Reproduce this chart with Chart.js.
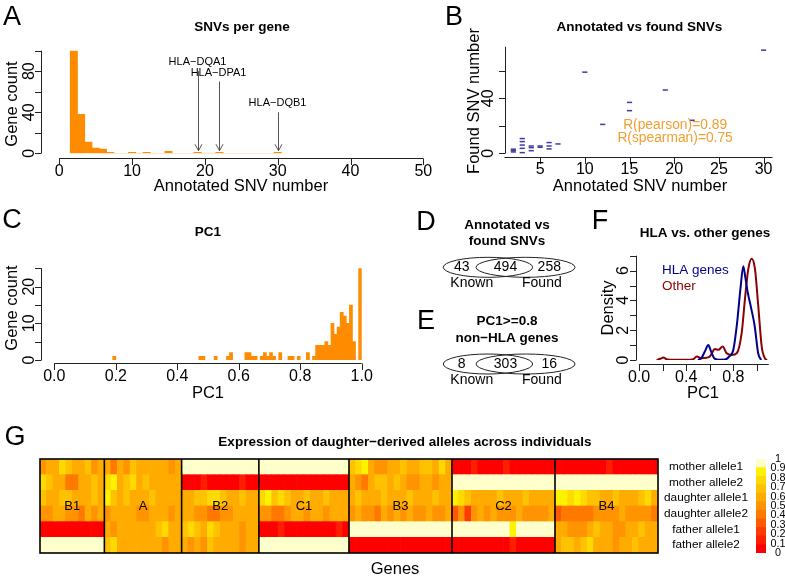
<!DOCTYPE html>
<html>
<head>
<meta charset="utf-8">
<script src="https://cdn.jsdelivr.net/npm/chart.js@4.4.1/dist/chart.umd.min.js"></script>
<style>
  html, body { margin: 0; padding: 0; background: #fff; }
  #fig { position: relative; width: 785px; height: 585px; overflow: hidden; }
  #fig canvas { position: absolute; left: 0; top: 0; }
</style>
</head>
<body>
<div id="fig">
  <canvas id="cA" width="785" height="585"></canvas>
  <canvas id="cB" width="785" height="585"></canvas>
  <canvas id="cC" width="785" height="585"></canvas>
  <canvas id="cDE" width="785" height="585"></canvas>
  <canvas id="cF" width="785" height="585"></canvas>
  <canvas id="cG" width="785" height="585"></canvas>
  <canvas id="cKey" width="785" height="585"></canvas>
</div>
<script>
// ---- A: SNVs per gene
const snvBins = [2,3,4,5,6,7,8,9,10,11,12,13,14,15,16,17,18,19,20,21,22,23,24,25,26,27,28,29,30]
const snvCounts = [100,38,11,5,4,1,0,0,1,0,1,0,0,2,0,0,0,1,0,0,1,0,0,0,0,0,0,0,1]
const snvTicks = [0,10,20,30,40,50]
const countTicksA = [0,20,40,60,80,100]
const countLabelsA = ['0','','40','','80','']
const hlaGenes = ['HLA\u2212DQA1','HLA\u2212DPA1','HLA\u2212DQB1']
const hlaSnv = [19,22,30]
const hlaArrowFrom = [80,70,40]

// ---- B: annotated vs found
const annotX = [2,2,2,3,3,3,3,3,4,4,4,5,5,6,6,6,7,10,12,15,15,19,22,30]
const foundY = [1,2,3,0.5,3.6,6,8.5,10.7,1.9,4.1,5.3,4.4,5.3,3.2,5.3,7.8,6.8,59,21,31,37,46,24,75]
const annotTicks = [5,10,15,20,25,30]
const foundTicks = [0,20,40,60]
const foundLabels = ['0','','40','']
const corrLabels = ['R(pearson)=0.89','R(spearman)=0.75']

// ---- C: PC1 histogram (bin centres, width 0.01)
const pc1Mid = [0.195,0.475,0.485,0.525,0.565,0.575,0.625,0.635,0.645,0.655,0.675,0.685,0.695,0.705,0.715,0.735,
  0.765,0.775,0.795,0.825,0.845,0.855,0.865,0.875,0.885,0.895,0.905,0.915,0.925,0.935,0.945,0.955,0.965,0.975,0.995]
const pc1Count = [1,1,1,1,1,2,2,2,1,1,1,2,1,2,1,2,
  1,1,1,2,1,4,4,4,5,4,10,7,9,13,12,10,15,5,28]
const pc1Ticks = [0,0.2,0.4,0.6,0.8,1.0]
const pc1Labels = ['0.0','0.2','0.4','0.6','0.8','1.0']
const countTicksC = [0,5,10,15,20,25]
const countLabelsC = ['0','','10','','20','']

// ---- D / E: overlaps (known only, both, found only)
const vennSets = ['Known','Found']
const overlapAll = [43,494,258]
const overlapPc1 = [8,303,16]

// ---- F: density of PC1
const hlaDensX = [0.50,0.53,0.56,0.587,0.61,0.64,0.68,0.73,0.76,0.80,0.83,0.86,0.884,0.90,0.92,0.95,0.98,1.01,1.035]
const hlaDensY = [0,0.15,0.6,1.0,0.6,0.1,0.02,0.03,0.2,0.7,2.4,4.8,6.3,5.6,4.6,3.5,2.3,0.45,0]
const otherDensX = [0.15,0.18,0.206,0.24,0.30,0.40,0.46,0.489,0.53,0.57,0.60,0.644,0.672,0.709,0.743,0.786,0.828,0.87,0.898,0.926,0.955,0.983,1.011,1.04,1.068,1.085]
const otherDensY = [0,0.08,0.16,0.03,0.01,0.01,0.05,0.23,0.12,0.15,0.23,0.73,0.68,0.9,0.45,0.34,0.45,1.8,4.1,6.1,6.8,6.1,3.6,0.9,0.1,0]
const densTicksX = [0,0.2,0.4,0.6,0.8,1.0]
const densLabelsX = ['0.0','','0.4','','0.8','']
const densTicksY = [0,1,2,3,4,5,6,7]
const densLabelsY = ['0','','2','','4','','6','']

// ---- G: allele expression, rows = mother1, mother2, daughter1, daughter2, father1, father2
const rowLabels = ['mother allele1','mother allele2','daughter allele1','daughter allele2','father allele1','father allele2']
const blockNames = ['B1','A','B2','C1','B3','C2','B4']
const blockB1 = [
  [0.5,0.6,0.6,0.8,0.7,0.6,0.6,0.7,0.5,0.6],
  [0.8,0.7,0.6,0.6,0.4,0.4,0.6,0.6,0.7,0.6],
  [0.7,0.6,0.6,0.7,0.7,0.6,0.6,0.6,0.7,0.6],
  [0.5,0.5,0.6,0.6,0.5,0.5,0.4,0.6,0.5,0.6],
  [0,0,0,0,0,0,0,0,0,0],
  [1,1,1,1,1,1,1,1,1,1]]
const blockA = [
  [0.6,0.4,0.6,0.5,0.7,0.6,0.6,0.6,0.6,0.6,0.5,0.6],
  [0.8,0.9,0.6,0.7,0.8,0.6,0.7,0.6,0.6,0.6,0.6,0.6],
  [0.9,0.7,0.6,0.7,0.6,0.6,0.6,0.7,0.6,0.6,0.6,0.6],
  [0.5,0.6,0.6,0.6,0.6,0.5,0.5,0.6,0.6,0.6,0.5,0.6],
  [0.6,0.5,0.6,0.6,0.6,0.6,0.6,0.6,0.7,0.8,0.6,0.6],
  [0.7,0.8,0.6,0.6,0.6,0.6,0.6,0.6,0.6,0.5,0.6,0.6]]
const blockB2 = [
  [1,1,1,1,1,1,1,1,1,1,1,1],
  [0,0,0,0.1,0,0,0,0,0,0.1,0,0],
  [0.6,0.6,0.7,0.7,0.8,0.8,0.7,0.6,0.6,0.7,0.6,0.6],
  [0.6,0.6,0.5,0.5,0.4,0.4,0.5,0.5,0.6,0.6,0.6,0.6],
  [0.7,0.8,0.7,0.6,0.8,0.7,0.6,0.6,0.6,0.5,0.6,0.6],
  [0.6,0.5,0.6,0.5,0.7,0.6,0.6,0.6,0.6,0.5,0.6,0.6]]
const blockC1 = [
  [1,1,1,1,1,1,1,1,1,1,1,1,1,1],
  [0,0,0,0,0,0,0,0,0,0,0,0,0,0],
  [0.8,0.9,0.7,0.8,0.7,0.6,0.6,0.7,0.6,0.6,0.7,0.6,0.6,0.6],
  [0.5,0.5,0.4,0.4,0.5,0.6,0.6,0.5,0.6,0.6,0.5,0.6,0.6,0.6],
  [0,0,0,0.1,0,0,0,0,0,0,0,0,0.1,0],
  [1,1,1,1,1,1,1,1,1,1,1,1,1,1]]
const blockB3 = [
  [0.7,0.8,0.9,0.6,0.5,0.5,0.6,0.6,0.7,0.6,0.6,0.7,0.7,0.6,0.8,0.6],
  [0.6,0.5,0.4,0.6,0.7,0.7,0.6,0.7,0.6,0.5,0.5,0.6,0.6,0.5,0.6,0.6],
  [0.6,0.7,0.6,0.6,0.6,0.7,0.6,0.6,0.6,0.7,0.6,0.6,0.6,0.7,0.6,0.6],
  [0.5,0.6,0.5,0.5,0.4,0.6,0.5,0.6,0.5,0.6,0.5,0.5,0.6,0.5,0.5,0.6],
  [1,1,1,1,1,1,1,1,1,1,1,1,1,1,1,1],
  [0,0,0,0,0,0,0,0,0,0,0,0,0,0,0,0]]
const blockC2 = [
  [0,0,0,0.1,0,0,0,0,0.1,0,0,0,0,0,0,0],
  [1,1,1,1,1,1,1,1,1,1,1,1,1,1,1,1],
  [0.9,0.8,0.7,0.6,0.6,0.6,0.6,0.7,0.6,0.6,0.6,0.7,0.6,0.6,0.6,0.6],
  [0.3,0.5,0.2,0.5,0.6,0.5,0.6,0.5,0.5,0.5,0.6,0.5,0.5,0.5,0.5,0.6],
  [1,1,1,1,1,1,1,1,1,0.9,1,1,1,1,1,1],
  [0,0,0,0,0,0,0,0,0,0.1,0,0,0,0,0,0]]
const blockB4 = [
  [0,0,0,0,0,0,0,0,0.1,0,0,0,0,0,0,0],
  [1,1,1,1,1,1,1,1,1,1,1,1,1,1,1,1],
  [0.9,0.9,0.8,0.9,0.8,0.7,0.7,0.6,0.6,0.7,0.6,0.6,0.6,0.7,0.8,0.6],
  [0.3,0.4,0.4,0.4,0.4,0.4,0.5,0.5,0.5,0.5,0.6,0.5,0.5,0.5,0.5,0.4],
  [0.6,0.6,0.5,0.5,0.5,0.6,0.7,0.6,0.6,0.5,0.5,0.6,0.6,0.7,0.6,0.6],
  [0.6,0.7,0.7,0.6,0.7,0.8,0.6,0.6,0.6,0.5,0.6,0.6,0.7,0.6,0.6,0.6]]
const keyTicks = [0,0.1,0.2,0.3,0.4,0.5,0.6,0.7,0.8,0.9,1]
const keyLabels = ['0','0.1','0.2','0.3','0.4','0.5','0.6','0.7','0.8','0.9','1']

// ---------------------------------------------------------------
const FONT = '"Liberation Sans", Arial, Helvetica, sans-serif'
const ORANGE = '#FF8C00'
const heatPalette = ['#FF0000','#FF1E00','#FF3C00','#FF5A00','#FF7800','#FF9300',
  '#FFAB00','#FFC200','#FFD900','#FFF200','#FFFFCC']
const heatColor = v => heatPalette[Math.round(v * 10)]

function txt(ctx, s, x, y, o = {}) {
  ctx.save()
  ctx.font = (o.bold ? 'bold ' : '') + (o.size || 16) + 'px ' + FONT
  ctx.fillStyle = o.color || '#000'
  ctx.textAlign = o.align || 'center'
  ctx.textBaseline = 'middle'
  ctx.translate(x, y)
  if (o.rot) ctx.rotate(o.rot)
  ctx.fillText(s, 0, 0)
  ctx.restore()
}

// R style axis: line between from/to, outward ticks, labels (y labels rotated)
function axis(chart, id, o) {
  const s = chart.scales[id], ctx = chart.ctx
  ctx.save()
  ctx.strokeStyle = '#222'
  ctx.lineWidth = 1
  ctx.beginPath()
  if (id === 'x') {
    ctx.moveTo(s.getPixelForValue(o.from), o.pos)
    ctx.lineTo(s.getPixelForValue(o.to), o.pos)
    o.at.forEach(v => {
      const p = Math.round(s.getPixelForValue(v)) + 0.5
      ctx.moveTo(p, o.pos); ctx.lineTo(p, o.pos + 6.5)
    })
  } else {
    ctx.moveTo(o.pos, s.getPixelForValue(o.from))
    ctx.lineTo(o.pos, s.getPixelForValue(o.to))
    o.at.forEach(v => {
      const p = Math.round(s.getPixelForValue(v)) + 0.5
      ctx.moveTo(o.pos, p); ctx.lineTo(o.pos - 6.5, p)
    })
  }
  ctx.stroke()
  ctx.restore()
  o.at.forEach((v, i) => {
    if (!o.labels[i]) return
    const p = s.getPixelForValue(v)
    if (id === 'x') txt(ctx, o.labels[i], p, o.labelPos, { size: 16 })
    else txt(ctx, o.labels[i], o.labelPos, p, { size: 16, rot: -Math.PI / 2 })
  })
}

const pad = (left, top, right, bottom) => ({ left, top, right: 785 - right, bottom: 585 - bottom })
const base = (padding, extra) => Object.assign({
  responsive: false, animation: false, events: [],
  layout: { padding },
  plugins: { legend: { display: false }, tooltip: { enabled: false }, title: { display: false } }
}, extra)

// ---- A
new Chart(document.getElementById('cA'), {
  type: 'bar',
  data: { datasets: [{
    data: snvBins.map((b, i) => ({ x: b, y: snvCounts[i] })),
    backgroundColor: ORANGE, borderWidth: 0, barPercentage: 1, categoryPercentage: 1
  }] },
  options: base(pad(59.3, 50.7, 423.3, 153.3), {
    scales: {
      x: { type: 'linear', min: 0, max: 50, display: false, offset: false },
      y: { min: 0, max: 100, display: false }
    }
  }),
  plugins: [{ id: 'panelA', afterDraw(chart) {
    const ctx = chart.ctx, xs = chart.scales.x, ys = chart.scales.y
    axis(chart, 'x', { pos: 158.5, from: 0, to: 50, at: snvTicks, labels: snvTicks.map(String), labelPos: 172 })
    axis(chart, 'y', { pos: 41.5, from: 0, to: 100, at: countTicksA, labels: countLabelsA, labelPos: 30 })
    txt(ctx, 'Annotated SNV number', 241, 186, { size: 16.5 })
    txt(ctx, 'Gene count', 12, 104, { size: 16.5, rot: -Math.PI / 2 })
    txt(ctx, 'SNVs per gene', 242, 27, { size: 13.5, bold: true })
    txt(ctx, 'A', 12, 18, { size: 27 })
    hlaGenes.forEach((g, i) => {
      const x = Math.round(xs.getPixelForValue(hlaSnv[i])) + 0.5
      const y0 = ys.getPixelForValue(hlaArrowFrom[i]), y1 = ys.getPixelForValue(2.5)
      ctx.save()
      ctx.strokeStyle = '#555'
      ctx.lineWidth = 1
      ctx.beginPath()
      ctx.moveTo(x, y0); ctx.lineTo(x, y1)
      ctx.moveTo(x - 3.5, y1 - 6.5); ctx.lineTo(x, y1); ctx.lineTo(x + 3.5, y1 - 6.5)
      ctx.stroke()
      ctx.restore()
      txt(ctx, g, x - 1, y0 - 9, { size: 11 })
    })
  } }]
})

// ---- B
new Chart(document.getElementById('cB'), {
  type: 'scatter',
  data: { datasets: [{
    data: annotX.map((x, i) => ({ x, y: foundY[i] })),
    pointStyle: 'line', pointRadius: 2.6, pointBorderWidth: 1.5,
    borderColor: '#3B3BA0', backgroundColor: '#3B3BA0', clip: false
  }] },
  options: base(pad(504.4, 46.7, 772.5, 153.3), {
    scales: {
      x: { type: 'linear', min: 1, max: 31, display: false },
      y: { min: 0, max: 77.5, display: false }
    }
  }),
  plugins: [{ id: 'panelB', afterDraw(chart) {
    const ctx = chart.ctx, xs = chart.scales.x, ys = chart.scales.y
    axis(chart, 'x', { pos: 157.5, from: 1, to: 31, at: annotTicks, labels: annotTicks.map(String), labelPos: 170 })
    axis(chart, 'y', { pos: 505.5, from: 0, to: 77.5, at: foundTicks, labels: foundLabels, labelPos: 489 })
    txt(ctx, 'Annotated SNV number', 640, 186, { size: 16.5 })
    txt(ctx, 'Found SNV number', 474, 101, { size: 16.5, rot: -Math.PI / 2 })
    txt(ctx, 'Annotated vs found SNVs', 639.5, 27, { size: 13.5, bold: true })
    txt(ctx, 'B', 454, 18, { size: 27 })
    txt(ctx, corrLabels[0], xs.getPixelForValue(20.1), ys.getPixelForValue(20.6), { size: 13.8, color: '#F0A030' })
    txt(ctx, corrLabels[1], xs.getPixelForValue(20.1), ys.getPixelForValue(10.9), { size: 13.8, color: '#F0A030' })
  } }]
})

// ---- C
new Chart(document.getElementById('cC'), {
  type: 'bar',
  data: { datasets: [{
    data: pc1Mid.map((x, i) => ({ x, y: pc1Count[i] })),
    backgroundColor: ORANGE, borderWidth: 0, barPercentage: 1, categoryPercentage: 1
  }] },
  options: base(pad(54.3, 268.3, 361.7, 360), {
    scales: {
      x: { type: 'linear', min: 0, max: 1, display: false, offset: false },
      y: { min: 0, max: 25, display: false }
    }
  }),
  plugins: [{ id: 'panelC', afterDraw(chart) {
    const ctx = chart.ctx
    axis(chart, 'x', { pos: 363.5, from: 0, to: 1, at: pc1Ticks, labels: pc1Labels, labelPos: 377 })
    axis(chart, 'y', { pos: 41.5, from: 0, to: 25, at: countTicksC, labels: countLabelsC, labelPos: 30 })
    txt(ctx, 'PC1', 208, 393, { size: 16.5 })
    txt(ctx, 'Gene count', 12, 308, { size: 16.5, rot: -Math.PI / 2 })
    txt(ctx, 'PC1', 208, 232.5, { size: 13.5, bold: true })
    txt(ctx, 'C', 12, 221, { size: 27 })
  } }]
})

// ---- D / E : two-set overlaps, x = -1 (known only), 0 (both), 1 (found only)
new Chart(document.getElementById('cDE'), {
  type: 'scatter',
  data: { datasets: [
    { data: overlapAll.map((n, i) => ({ x: i - 1, y: 1 })), pointRadius: 0 },
    { data: overlapPc1.map((n, i) => ({ x: i - 1, y: 0 })), pointRadius: 0 }
  ] },
  options: base(pad(461.7, 267.3, 549.3, 364), {
    scales: {
      x: { type: 'linear', min: -1, max: 1, display: false },
      y: { min: 0, max: 1, display: false }
    }
  }),
  plugins: [{ id: 'venn', afterDraw(chart) {
    const ctx = chart.ctx, xs = chart.scales.x
    const counts = [overlapAll, overlapPc1]
    counts.forEach((arr, d) => {
      const pts = chart.getDatasetMeta(d).data
      const y = pts[0].y
      ctx.save()
      ctx.strokeStyle = '#222'
      ctx.lineWidth = 1
      ctx.beginPath()
      ctx.ellipse(xs.getPixelForValue(-0.4), y, 44.7, 10, 0, 0, Math.PI * 2)
      ctx.stroke()
      ctx.beginPath()
      ctx.ellipse(xs.getPixelForValue(0.457), y, 49.5, 10, 0, 0, Math.PI * 2)
      ctx.stroke()
      ctx.restore()
      arr.forEach((n, i) => txt(ctx, String(n), pts[i].x, y, { size: 14 }))
      txt(ctx, vennSets[0], xs.getPixelForValue(-0.77), y + 16, { size: 14 })
      txt(ctx, vennSets[1], xs.getPixelForValue(0.83), y + 16, { size: 14 })
    })
    txt(ctx, 'Annotated vs', 507, 225, { size: 13.5, bold: true })
    txt(ctx, 'found SNVs', 507, 241.7, { size: 13.5, bold: true })
    txt(ctx, 'PC1>=0.8', 507, 321.7, { size: 13.5, bold: true })
    txt(ctx, 'non\u2212HLA genes', 507, 338.3, { size: 13.5, bold: true })
    txt(ctx, 'D', 426, 223, { size: 27 })
    txt(ctx, 'E', 426, 322, { size: 27 })
  } }]
})

// ---- F
new Chart(document.getElementById('cF'), {
  type: 'line',
  data: { datasets: [
    { data: hlaDensX.map((x, i) => ({ x, y: hlaDensY[i] })), borderColor: '#00008B', borderWidth: 2,
      pointRadius: 0, cubicInterpolationMode: 'monotone', fill: false },
    { data: otherDensX.map((x, i) => ({ x, y: otherDensY[i] })), borderColor: '#8B0000', borderWidth: 2,
      pointRadius: 0, cubicInterpolationMode: 'monotone', fill: false }
  ] },
  options: base(pad(639, 255.7, 768.8, 360), {
    scales: {
      x: { type: 'linear', min: 0, max: 1.1, display: false },
      y: { min: 0, max: 7, display: false }
    }
  }),
  plugins: [{ id: 'panelF', afterDraw(chart) {
    const ctx = chart.ctx
    axis(chart, 'x', { pos: 364.5, from: 0, to: 1.1, at: densTicksX, labels: densLabelsX, labelPos: 378 })
    axis(chart, 'y', { pos: 636.5, from: 0, to: 7, at: densTicksY, labels: densLabelsY, labelPos: 624 })
    txt(ctx, 'PC1', 703, 393, { size: 16.5 })
    txt(ctx, 'Density', 608, 308, { size: 16.5, rot: -Math.PI / 2 })
    txt(ctx, 'HLA vs. other genes', 705, 233, { size: 13.5, bold: true })
    txt(ctx, 'F', 600, 222, { size: 27 })
    txt(ctx, 'HLA genes', 662, 270, { size: 13.5, color: '#00008B', align: 'left' })
    txt(ctx, 'Other', 662, 286.7, { size: 13.5, color: '#8B0000', align: 'left' })
  } }]
})

// ---- G heatmap: stacked unit bars, bottom row first
const blocks = [blockB1, blockA, blockB2, blockC1, blockB3, blockC2, blockB4]
const rowsTopDown = rowLabels.map((_, r) => blocks.flatMap(b => b[r]))
const colLabels = blocks.flatMap((b, k) => b[0].map((_, j) => blockNames[k] + '.' + (j + 1)))
const blockEdges = blocks.reduce((acc, b) => acc.concat(acc[acc.length - 1] + b[0].length), [0])

new Chart(document.getElementById('cG'), {
  type: 'bar',
  data: {
    labels: colLabels,
    datasets: rowsTopDown.slice().reverse().map(vals => ({
      data: vals.map(() => 1),
      backgroundColor: vals.map(heatColor),
      borderWidth: 0, barPercentage: 1, categoryPercentage: 1
    }))
  },
  options: base(pad(40, 459, 658, 553), {
    scales: {
      x: { stacked: true, display: false },
      y: { stacked: true, min: 0, max: 6, display: false }
    }
  }),
  plugins: [{ id: 'panelG', afterDraw(chart) {
    const ctx = chart.ctx, a = chart.chartArea, ys = chart.scales.y
    const n = colLabels.length
    const edgeX = i => a.left + (a.right - a.left) * i / n
    ctx.save()
    ctx.strokeStyle = '#000'
    ctx.lineWidth = 1.6
    ctx.strokeRect(a.left, a.top, a.right - a.left, a.bottom - a.top)
    ctx.beginPath()
    blockEdges.slice(1, -1).forEach(e => { ctx.moveTo(edgeX(e), a.top); ctx.lineTo(edgeX(e), a.bottom) })
    ctx.stroke()
    ctx.restore()
    blockNames.forEach((name, k) => {
      txt(ctx, name, (edgeX(blockEdges[k]) + edgeX(blockEdges[k + 1])) / 2, ys.getPixelForValue(3), { size: 13 })
    })
    rowLabels.forEach((lab, r) => txt(ctx, lab, 706, ys.getPixelForValue(5.5 - r), { size: 11.8 }))
    txt(ctx, 'Expression of daughter\u2212derived alleles across individuals', 405, 442, { size: 13.5, bold: true })
    txt(ctx, 'G', 15, 438, { size: 27 })
    txt(ctx, 'Genes', 395, 569, { size: 16.5 })
  } }]
})

// ---- colour key
new Chart(document.getElementById('cKey'), {
  type: 'bar',
  data: {
    labels: ['key'],
    datasets: heatPalette.map(c => ({
      data: [1 / heatPalette.length], backgroundColor: c, borderWidth: 0, barPercentage: 1, categoryPercentage: 1
    }))
  },
  options: base(pad(756, 459, 766, 553), {
    scales: {
      x: { stacked: true, display: false },
      y: { stacked: true, min: 0, max: 1, display: false }
    }
  }),
  plugins: [{ id: 'key', afterDraw(chart) {
    const ys = chart.scales.y
    keyTicks.forEach((v, i) => txt(chart.ctx, keyLabels[i], 778, ys.getPixelForValue(v), { size: 10.8 }))
  } }]
})
</script>
</body>
</html>
